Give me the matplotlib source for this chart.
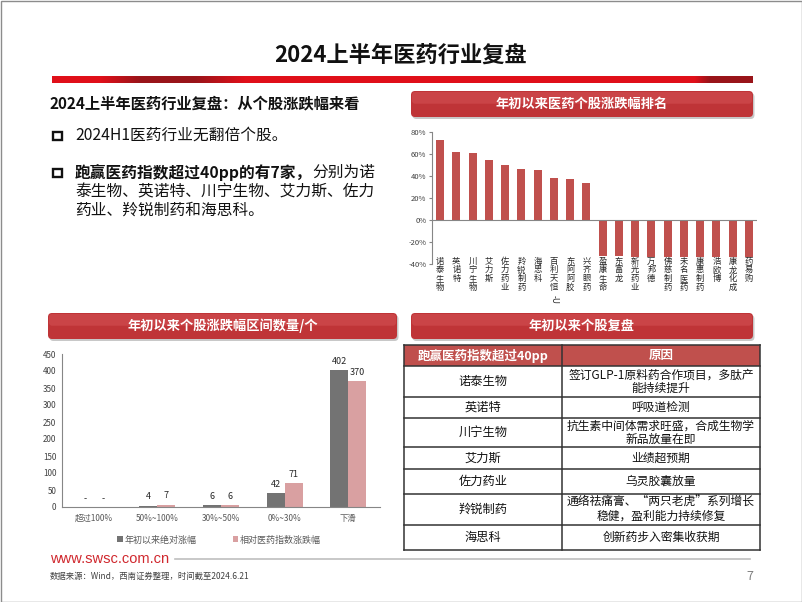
import matplotlib
matplotlib.use("Agg")
import matplotlib.pyplot as plt
import matplotlib.transforms as mtransforms
import numpy as np
from matplotlib.patches import Rectangle, FancyBboxPatch

plt.rcParams['font.family'] = ['Noto Sans CJK SC', 'DejaVu Sans']

W, H = 802, 602

# ---------------- data ----------------
rank_names = ["诺泰生物", "英诺特", "川宁生物", "艾力斯", "佐力药业", "羚锐制药", "海思科",
              "百利天恒-U", "东阿阿胶", "兴齐眼药", "盈康生命", "东富龙", "新光药业", "万邦德",
              "佛慈制药", "未名医药", "康惠制药", "浩欧博", "康龙化成", "药易购"]
rank_values = [72.4, 61.7, 61.3, 54.4, 49.9, 46.8, 45.9, 38.6, 37.7, 33.2,
               -33.0, -33.0, -33.2, -33.3, -33.4, -33.5, -33.6, -33.7, -33.8, -34.0]
rank_ticks = [-40, -20, 0, 20, 40, 60, 80]

range_cats = ["超过100%", "50%~100%", "30%~50%", "0%~30%", "下滑"]
abs_counts = [0, 4, 6, 42, 402]
rel_counts = [0, 7, 6, 71, 370]
series_names = ["年初以来绝对涨幅", "相对医药指数涨跌幅"]
count_ticks = list(range(0, 451, 50))

table_header = ["跑赢医药指数超过40pp", "原因"]
table_stocks = ["诺泰生物", "英诺特", "川宁生物", "艾力斯", "佐力药业", "羚锐制药", "海思科"]
table_reasons = ["签订GLP-1原料药合作项目，多肽产\n能持续提升",
                 "呼吸道检测",
                 "抗生素中间体需求旺盛，合成生物学\n新品放量在即",
                 "业绩超预期",
                 "乌灵胶囊放量",
                 "通络祛痛膏、“两只老虎”系列增长\n稳健，盈利能力持续修复",
                 "创新药步入密集收获期"]

# ---------------- figure ----------------
fig = plt.figure(figsize=(W / 100, H / 100), dpi=100)
fig.patch.set_facecolor('white')

bg = fig.add_axes([0, 0, 1, 1])
bg.set_xlim(0, W)
bg.set_ylim(H, 0)
bg.axis('off')


def rect(x0, y0, x1, y1):
    return [x0 / W, 1 - y1 / H, (x1 - x0) / W, (y1 - y0) / H]


# outer border
bg.add_patch(Rectangle((0.5, 0.5), W - 1, H - 1, fill=False, ec='#8C8C8C', lw=1.0))

# title
bg.text(401, 55, "2024上半年医药行业复盘", ha='center', va='center',
        fontsize=16, fontweight='bold', color='#111111')

# red title bar with darker segments (gradient)
xs = np.linspace(52, 753, 700)
base = np.array([0.88, 0.06, 0.10])
dark = np.array([0.60, 0.08, 0.10])
wgt = np.zeros_like(xs)
wgt += np.clip((xs - 100) / 40, 0, 1) * np.clip((245 - xs) / 50, 0, 1)
wgt += np.clip((xs - 695) / 15, 0, 1)
wgt = np.clip(wgt, 0, 1)
cols = base[None, :] * (1 - wgt[:, None]) + dark[None, :] * wgt[:, None]
bg.imshow(cols[None, :, :], extent=(52, 753, 83.5, 77), aspect='auto', interpolation='bilinear', zorder=1)
bg.set_xlim(0, W)
bg.set_ylim(H, 0)

# left heading
bg.text(50, 103, "2024上半年医药行业复盘：从个股涨跌幅来看", ha='left', va='center',
        fontsize=11, fontweight='bold', color='#111111')


def header_box(x0, y0, x1, y1, text):
    bg.add_patch(FancyBboxPatch((x0 + 1.5, y0 + 2), x1 - x0, y1 - y0,
                                boxstyle="round,pad=0,rounding_size=4",
                                fc='#C8C8C8', ec='none', zorder=2))
    bg.add_patch(FancyBboxPatch((x0, y0), x1 - x0, y1 - y0,
                                boxstyle="round,pad=0,rounding_size=4",
                                fc='#BF3437', ec='none', zorder=3))
    bg.add_patch(FancyBboxPatch((x0 + 1, y0 + 1), x1 - x0 - 2, (y1 - y0) * 0.45,
                                boxstyle="round,pad=0,rounding_size=3",
                                fc='#D65457', ec='none', alpha=0.5, zorder=3))
    bg.text((x0 + x1) / 2, (y0 + y1) / 2, text, ha='center', va='center',
            fontsize=9.5, fontweight='bold', color='white', zorder=4)


header_box(411, 91, 753, 117, "年初以来医药个股涨跌幅排名")
header_box(48, 313, 397, 339, "年初以来个股涨跌幅区间数量/个")
header_box(411, 313, 753, 339, "年初以来个股复盘")

# bullets
bg.add_patch(Rectangle((53, 131.5), 8.5, 8.5, fill=False, ec='#111111', lw=1.7))
bg.add_patch(Rectangle((53, 168.5), 8.5, 8.5, fill=False, ec='#111111', lw=1.7))
bg.text(75, 135.5, "2024H1医药行业无翻倍个股。", ha='left', va='center', fontsize=11.3, color='#111111')
tb = bg.text(75, 172.5, "跑赢医药指数超过40pp的有7家，", ha='left', va='center',
             fontsize=11.3, fontweight='bold', color='#111111')
fig.canvas.draw()
bw = tb.get_window_extent(fig.canvas.get_renderer()).width
bg.text(75 + bw, 172.5, "分别为诺", ha='left', va='center', fontsize=11.3, color='#111111')
bg.text(75, 191.5, "泰生物、英诺特、川宁生物、艾力斯、佐力", ha='left', va='center', fontsize=11.3, color='#111111')
bg.text(75, 210.5, "药业、羚锐制药和海思科。", ha='left', va='center', fontsize=11.3, color='#111111')

# ---------------- chart 1: ranking ----------------
axis_gray = '#868686'
tick_col = '#404040'
ax1 = fig.add_axes(rect(432, 132, 757, 264))
ax1.set_facecolor('none')
x1 = np.arange(len(rank_names))
ax1.bar(x1, rank_values, width=0.5, color='#C0504D', zorder=2)
ax1.set_xlim(-0.5, len(rank_names) - 0.5)
ax1.set_ylim(-40, 80)
ax1.set_yticks(rank_ticks)
ax1.set_yticklabels([f"{v}%" for v in rank_ticks])
ax1.tick_params(axis='y', labelsize=5.5, colors=tick_col, length=2, color=axis_gray, pad=2)
ax1.set_xticks([])
for s in ['top', 'right', 'bottom']:
    ax1.spines[s].set_visible(False)
ax1.spines['left'].set_color(axis_gray)
ax1.spines['left'].set_linewidth(0.8)
ax1.axhline(0, color=axis_gray, lw=0.8, zorder=3)
trans = mtransforms.blended_transform_factory(ax1.transData, ax1.transAxes)
lab_fs = 6
line_h = lab_fs * 0.95 * 1.2
lab_y = 0.055
for i, name in enumerate(rank_names):
    main, suffix = (name.split('-') + [''])[:2]
    ax1.text(i, lab_y, "\n".join(list(main)), transform=trans, ha='center', va='top',
             fontsize=lab_fs, linespacing=0.95, color='#262626', zorder=4)
    if suffix:
        ax1.annotate("-" + suffix, xy=(i, lab_y), xycoords=trans,
                     xytext=(0, -len(main) * line_h), textcoords='offset points',
                     ha='center', va='top', rotation=270, fontsize=lab_fs, color='#262626')

# ---------------- chart 2: counts ----------------
ax2 = fig.add_axes(rect(62, 354, 380, 507))
ax2.set_facecolor('none')
x2 = np.arange(len(range_cats))
bw2 = 0.283
b1 = ax2.bar(x2 - bw2 / 2, abs_counts, bw2, color='#737373', label=series_names[0])
b2 = ax2.bar(x2 + bw2 / 2, rel_counts, bw2, color='#D9A0A1', label=series_names[1])
ax2.bar_label(b1, labels=[str(v) if v else '-' for v in abs_counts], padding=3, fontsize=6.5, color='#262626')
ax2.bar_label(b2, labels=[str(v) if v else '-' for v in rel_counts], padding=3, fontsize=6.5, color='#262626')
ax2.set_xlim(-0.5, len(range_cats) - 0.5)
ax2.set_ylim(0, 450)
ax2.set_yticks(count_ticks)
ax2.tick_params(axis='y', labelsize=5.8, colors=tick_col, length=0, pad=4)
ax2.set_xticks(x2)
ax2.set_xticklabels(range_cats)
ax2.tick_params(axis='x', labelsize=6, colors='#595959', length=0, pad=5)
for s in ['top', 'right']:
    ax2.spines[s].set_visible(False)
for s in ['left', 'bottom']:
    ax2.spines[s].set_color(axis_gray)
    ax2.spines[s].set_linewidth(0.8)
ax2.legend(loc='center', bbox_to_anchor=(0.494, -0.215), ncol=2, frameon=False,
           fontsize=6.5, handlelength=0.6, handleheight=0.6, handletextpad=0.2,
           columnspacing=4.0, labelcolor='#595959')

# ---------------- table ----------------
tx = [404, 562, 760]
ty = [345, 366, 397, 418, 447, 469, 494, 525, 550]
bg.add_patch(Rectangle((tx[0], ty[0]), tx[2] - tx[0], ty[1] - ty[0], fc='#C0504D', ec='none', zorder=2))
for yy in ty:
    bg.plot([tx[0], tx[2]], [yy, yy], color='#333333', lw=1.1, zorder=3)
for xx in tx:
    bg.plot([xx, xx], [ty[0], ty[-1]], color='#333333', lw=1.1, zorder=3)
bg.text((tx[0] + tx[1]) / 2, (ty[0] + ty[1]) / 2, table_header[0], ha='center', va='center',
        fontsize=9, fontweight='bold', color='white', zorder=4)
bg.text((tx[1] + tx[2]) / 2, (ty[0] + ty[1]) / 2, table_header[1], ha='center', va='center',
        fontsize=9, fontweight='bold', color='white', zorder=4)
for r, (stk, rsn) in enumerate(zip(table_stocks, table_reasons)):
    yc = (ty[r + 1] + ty[r + 2]) / 2
    bg.text((tx[0] + tx[1]) / 2, yc, stk, ha='center', va='center', fontsize=8.8, color='#111111', zorder=4)
    bg.text((tx[1] + tx[2]) / 2, yc, rsn, ha='center', va='center', fontsize=8.5,
            color='#111111', linespacing=1.05, zorder=4)

# ---------------- footer ----------------
bg.plot([175, 750], [559, 559], color='#BFBFBF', lw=1.2)
bg.text(50, 559, "www.swsc.com.cn", ha='left', va='center', fontsize=10.5,
        family=['Liberation Sans', 'DejaVu Sans'], color='#D0282E')
bg.text(50, 576, "数据来源：Wind，西南证券整理，时间截至2024.6.21", ha='left', va='center',
        fontsize=6, color='#404040')
bg.text(753, 576, "7", ha='right', va='center', fontsize=9, color='#808080')

fig.savefig('out.png', dpi=100)
